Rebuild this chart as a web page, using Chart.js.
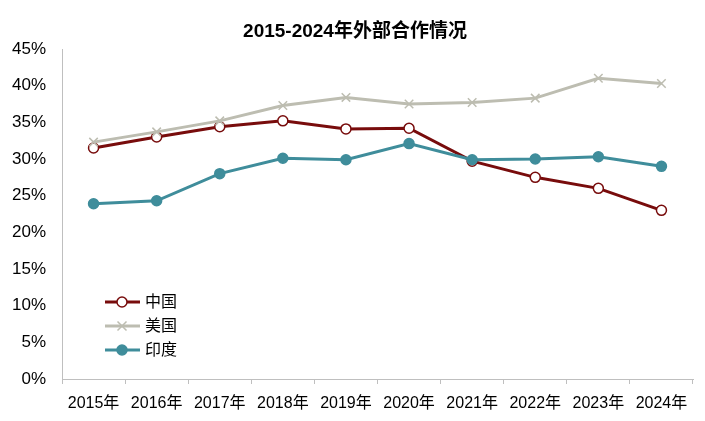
<!DOCTYPE html>
<html><head><meta charset="utf-8">
<script src="https://cdn.jsdelivr.net/npm/chart.js@4/dist/chart.umd.min.js"></script>
<style>html,body{margin:0;padding:0;background:#fff}#c{display:block}</style>
</head><body>
<div style="width:705px;height:421px"><canvas id="c" width="705" height="421"></canvas></div>
<script>
const categories = ['2015年','2016年','2017年','2018年','2019年','2020年','2021年','2022年','2023年','2024年'];
const china = [31.5, 33.0, 34.4, 35.2, 34.1, 34.2, 29.7, 27.5, 26.0, 23.0];
const usa   = [32.3, 33.7, 35.2, 37.3, 38.4, 37.5, 37.7, 38.3, 41.0, 40.3];
const india = [23.9, 24.3, 28.0, 30.1, 29.9, 32.1, 29.9, 30.0, 30.3, 29.0];
const yTicks = [0,5,10,15,20,25,30,35,40,45];
const titleText = '2015-2024年外部合作情况';
const seriesNames = ['中国','美国','印度'];

const FONT = "'Liberation Sans', Arial, 'Noto Sans CJK SC', sans-serif";

function drawMarker(ctx, style, x, y, r, fill, stroke) {
  ctx.save();
  ctx.lineWidth = 1.5;
  ctx.strokeStyle = stroke; ctx.fillStyle = fill;
  if (style === 'crossRot') {
    ctx.beginPath();
    ctx.moveTo(x - r*0.75, y - r*0.75); ctx.lineTo(x + r*0.75, y + r*0.75);
    ctx.moveTo(x - r*0.75, y + r*0.75); ctx.lineTo(x + r*0.75, y - r*0.75);
    ctx.stroke();
  } else {
    ctx.beginPath(); ctx.arc(x, y, r, 0, Math.PI*2); ctx.fill(); ctx.stroke();
  }
  ctx.restore();
}

const overlay = {
  id: 'overlay',
  afterDraw(chart) {
    const ctx = chart.ctx;
    ctx.save();
    ctx.fillStyle = '#000';
    ctx.font = "bold 19px " + FONT;
    ctx.textAlign = 'center'; ctx.textBaseline = 'middle';
    ctx.fillText(titleText, 355, 32);
    // legend
    const rows = [302, 326, 350];
    seriesNames.forEach((name, i) => {
      const ds = chart.data.datasets.find(d => d.label === name);
      const y = rows[i];
      ctx.strokeStyle = ds.borderColor; ctx.lineWidth = 3;
      ctx.beginPath(); ctx.moveTo(105, y); ctx.lineTo(140, y); ctx.stroke();
      drawMarker(ctx, ds.pointStyle, 122, y, ds.pointRadius, ds.pointBackgroundColor, ds.pointBorderColor);
      ctx.fillStyle = '#000'; ctx.font = "16px " + FONT;
      ctx.textAlign = 'left'; ctx.textBaseline = 'middle';
      ctx.fillText(ds.label, 145, y + 1);
    });
    ctx.restore();
  }
};

new Chart(document.getElementById('c'), {
  type: 'line',
  data: {
    labels: categories,
    datasets: [
      { label: seriesNames[2], data: india, borderColor: '#3f8d9b', borderWidth: 3,
        pointStyle: 'circle', pointRadius: 5, pointBackgroundColor: '#3f8d9b', pointBorderColor: '#3f8d9b', pointBorderWidth: 1.5 },
      { label: seriesNames[1], data: usa, borderColor: '#bdbdb1', borderWidth: 3,
        pointStyle: 'crossRot', pointRadius: 6, pointBackgroundColor: '#bdbdb1', pointBorderColor: '#bdbdb1', pointBorderWidth: 1.5 },
      { label: seriesNames[0], data: china, borderColor: '#780c0c', borderWidth: 3,
        pointStyle: 'circle', pointRadius: 5, pointBackgroundColor: '#ffffff', pointBorderColor: '#780c0c', pointBorderWidth: 1.5 }
    ]
  },
  options: {
    responsive: false, animation: false,
    layout: { padding: { top: 49, right: 12, left: 0, bottom: 0 } },
    plugins: { legend: { display: false }, title: { display: false }, tooltip: { enabled: false } },
    scales: {
      x: {
        offset: true,
        grid: { display: true, offset: true, drawOnChartArea: false, drawTicks: true, tickLength: 5, color: '#bfbfbf' },
        border: { color: '#bfbfbf', width: 1 },
        ticks: { color: '#000', font: { size: 16, family: FONT }, padding: 10, maxRotation: 0, autoSkip: false },
        afterFit(s) { s.height = 42; }
      },
      y: {
        min: 0, max: 45,
        afterBuildTicks(s) { s.ticks = yTicks.map(v => ({ value: v })); },
        grid: { display: false, drawTicks: false },
        border: { color: '#bfbfbf', width: 1 },
        ticks: { color: '#000', font: { size: 17, family: FONT }, padding: 16, callback: v => v + '%' },
        afterFit(s) { s.width = 62; }
      }
    }
  },
  plugins: [overlay]
});
</script>
</body></html>
